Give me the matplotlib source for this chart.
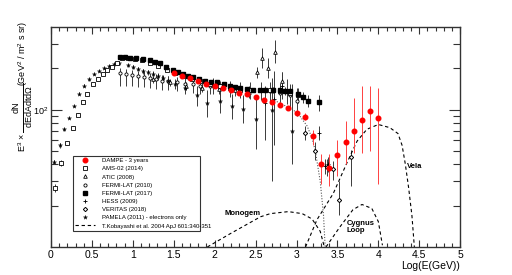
import numpy as np
import matplotlib
matplotlib.use("Agg")
from matplotlib import pyplot as plt
from matplotlib.container import ErrorbarContainer
from matplotlib.ticker import FixedLocator, NullFormatter, FixedFormatter

plt.rcParams["font.family"] = ["Liberation Sans", "DejaVu Sans"]
plt.rcParams["mathtext.fontset"] = "custom"
plt.rcParams["mathtext.rm"] = "Liberation Sans"
plt.rcParams["mathtext.it"] = "Liberation Sans:italic"

# ---- data: x = log10(E/GeV), y = E^3 flux ----
dampe_x = [1.5, 1.6, 1.7, 1.8, 1.9, 2.0, 2.1, 2.2, 2.3, 2.4, 2.5, 2.6, 2.7,
           2.8, 2.9, 3.0, 3.1, 3.2, 3.3, 3.4, 3.5, 3.6, 3.7, 3.8, 3.9, 4.0]
dampe_y = [184, 175, 169, 161, 155, 148, 143, 138, 133, 129, 123, 118, 113,
           109, 103, 95, 89, 64, 40, 37.5, 47, 58, 70, 84, 98, 87]
dampe_lo = [179, 170, 165, 157, 151, 144, 139, 134, 129, 125, 119, 114, 109,
            105, 99, 91, 84, 55, 28.6, 27.6, 33, 40, 48, 48, 50, 29]
dampe_hi = [189, 180, 173, 165, 159, 152, 147, 142, 137, 133, 127, 122, 117,
            113, 107, 99, 94, 71, 47.5, 47.5, 60, 83, 122, 148, 148, 143]

ams_x = [0.05, 0.12, 0.20, 0.27, 0.33, 0.39, 0.44, 0.51, 0.57, 0.64, 0.68, 0.75,
         0.81, 0.87, 0.94, 1.03, 1.11, 1.21, 1.31, 1.42, 1.52, 1.61, 1.72, 1.82,
         1.94, 2.07, 2.19, 2.31, 2.43, 2.56, 2.68, 2.80, 2.92, 3.02]
ams_y = [27, 41, 57, 74, 92, 113, 129, 153, 166, 181, 193, 204, 218, 237, 238,
         234, 229, 218, 207, 195, 184, 175, 168, 161, 155, 149, 144, 140, 139,
         138, 138, 136, 133, 127]
ams_lo = [25, 39, 55, 72, 90, 111, 127, 151, 164, 179, 191, 202, 216, 235, 236,
          232, 227, 216, 205, 193, 182, 173, 165, 158, 151, 145, 139, 134, 132,
          130, 128, 124, 119, 111]
ams_hi = [29, 43, 59, 76, 94, 115, 131, 155, 168, 183, 195, 206, 220, 239, 240,
          236, 231, 220, 209, 197, 186, 177, 171, 164, 159, 153, 149, 146, 146,
          146, 148, 148, 147, 143]

atic_x = [1.25, 1.45, 1.65, 1.85, 2.05, 2.25, 2.42, 2.52, 2.58, 2.65, 2.74, 2.82]
atic_y = [166, 158, 150, 145, 141, 138, 135, 187, 237, 200, 262, 161]
atic_lo = [156, 148, 140, 134, 130, 126, 122, 169, 200, 169, 218, 138]
atic_hi = [176, 168, 160, 156, 152, 150, 148, 204, 281, 237, 321, 187]

fermi10_x = [0.84, 0.92, 0.99, 1.06, 1.14, 1.21, 1.28, 1.36, 1.43, 1.54, 1.64,
             1.74, 1.82, 1.94, 2.07, 2.19, 2.31, 2.43, 2.56, 2.68, 2.80, 2.92, 3.01]
fermi10_y = [184, 181, 178, 175, 172, 169, 166, 163, 161, 158, 155, 153, 150,
             148, 145, 143, 140, 140, 138, 136, 133, 127, 116]
fermi10_lo = [150, 150, 149, 147, 146, 144, 142, 140, 139, 137, 135, 133, 131,
              129, 126, 124, 121, 120, 117, 114, 110, 102, 90]
fermi10_hi = [200, 197, 193, 190, 187, 184, 181, 178, 176, 173, 170, 168, 166,
              165, 162, 161, 159, 160, 159, 158, 157, 153, 143]

fermi17_x = [0.84, 0.90, 0.97, 1.04, 1.12, 1.21, 1.27, 1.33, 1.41, 1.49, 1.55,
             1.61, 1.68, 1.74, 1.81, 1.88, 1.95, 2.03, 2.11, 2.19, 2.25, 2.31,
             2.39, 2.47, 2.55, 2.62, 2.71, 2.80, 2.86, 2.92, 3.02, 3.08, 3.14, 3.28]
fermi17_y = [241, 240, 239, 237, 235, 229, 224, 218, 206, 193, 187, 181, 176,
             172, 167, 163, 160, 158, 154, 150, 147, 145, 142, 140, 139, 140,
             139, 138, 137, 136, 129, 123, 116, 113]
fermi17_lo = [239, 238, 237, 235, 233, 227, 222, 216, 204, 191, 185, 179, 174,
              170, 165, 161, 158, 155, 151, 147, 144, 141, 138, 136, 134, 134,
              132, 130, 128, 126, 118, 111, 104, 98]
fermi17_hi = [243, 242, 241, 239, 237, 231, 226, 220, 208, 195, 189, 183, 178,
              174, 169, 165, 162, 161, 157, 153, 150, 149, 146, 144, 144, 146,
              146, 146, 146, 146, 140, 135, 128, 127]

hess_x = [2.62, 2.72, 2.82, 2.88, 3.28, 3.35, 3.38]
hess_y = [112, 120, 150, 137, 68, 39, 40]
hess_lo = [60, 55, 120, 110, 60, 34, 35]
hess_hi = [150, 190, 187, 168, 76, 44, 45]

veritas_x = [3.10, 3.23, 3.37, 3.44, 3.52, 3.67]
veritas_y = [68, 50, 38, 37, 22, 45]
veritas_lo = [60, 43, 33, 31, 17, 28]
veritas_hi = [76, 58, 44, 42, 30, 51]

pamela_x = [0.04, 0.11, 0.16, 0.22, 0.28, 0.34, 0.40, 0.46, 0.53, 0.59, 0.65,
            0.71, 0.77, 0.83, 0.94, 1.00, 1.06, 1.12, 1.19, 1.25, 1.31, 1.37,
            1.43, 1.52, 1.64, 1.78, 1.91, 1.98, 2.07, 2.21, 2.35, 2.51, 2.70, 2.95]
pamela_y = [41.5, 55, 72, 87, 107, 131, 150, 166, 181, 190, 200, 207, 214, 218,
            211, 204, 197, 190, 187, 181, 175, 169, 163, 155, 145, 127, 111,
            150, 116, 107, 102, 86, 100, 70]
pamela_lo = [40, 53, 70, 85, 105, 128, 147, 163, 178, 187, 197, 203, 210, 213,
             206, 198, 191, 183, 179, 172, 165, 158, 151, 142, 130, 107, 88,
             130, 95, 85, 80, 52, 30, 40]
pamela_hi = [43, 57, 74, 89, 109, 134, 153, 169, 184, 193, 203, 211, 218, 223,
             216, 210, 203, 197, 195, 190, 185, 180, 175, 168, 160, 150, 140,
             170, 140, 131, 128, 125, 170, 155]

# Kobayashi et al. 2004 model curves
bkg_x = [2.7, 2.8, 2.95, 3.04, 3.13, 3.19, 3.23, 3.29, 3.33, 3.35]
bkg_y = [120, 111, 101, 90, 76, 62, 50, 30, 17, 10]
monogem_x = [1.91, 2.19, 2.56, 2.68, 2.90, 3.07, 3.19, 3.29, 3.34]
monogem_y = [10, 12.5, 16.6, 17.5, 18.1, 17.5, 16, 13, 10]
cygnus_x = [3.36, 3.53, 3.69, 3.80, 3.92, 4.00, 4.05]
cygnus_y = [10, 14, 18.7, 20.4, 19.1, 15.3, 10.3]
vela_x = [3.11, 3.25, 3.45, 3.62, 3.74, 3.86, 4.00, 4.14, 4.24, 4.29, 4.33,
          4.37, 4.41, 4.44]
vela_y = [10, 15.8, 24.6, 41.5, 59, 72, 78, 74, 67, 55, 40, 27, 17, 10]


def errs(y, lo, hi):
    y = np.array(y)
    return [y - np.array(lo), np.array(hi) - y]


fig = plt.figure(figsize=(5.12, 2.75), dpi=100)
ax = fig.add_axes([0.0996, 0.1018, 0.7992, 0.8])

eb = dict(linestyle="none", elinewidth=0.7, capsize=0)
grey = "#3a3a3a"

ax.errorbar(fermi10_x, fermi10_y, yerr=errs(fermi10_y, fermi10_lo, fermi10_hi), marker="o",
            ms=2.3, mfc="white", mec="black", mew=0.6, ecolor=grey, color="black",
            label="FERMI-LAT (2010)", **eb)
ax.errorbar(atic_x, atic_y, yerr=errs(atic_y, atic_lo, atic_hi), marker="^", ms=2.6,
            mfc="white", mec="black", mew=0.6, ecolor=grey, color="black",
            label="ATIC (2008)", **eb)
ax.errorbar(pamela_x, pamela_y, yerr=errs(pamela_y, pamela_lo, pamela_hi), marker="*",
            ms=3.2, mfc="black", mec="black", mew=0.2, ecolor=grey, color="black",
            label="PAMELA (2011) - electrons only", **eb)
ax.errorbar(ams_x, ams_y, yerr=errs(ams_y, ams_lo, ams_hi), marker="s", ms=2.3,
            mfc="white", mec="black", mew=0.6, ecolor=grey, color="black",
            label="AMS-02 (2014)", **eb)
ax.errorbar(fermi17_x, fermi17_y, yerr=errs(fermi17_y, fermi17_lo, fermi17_hi), marker="s",
            ms=2.2, mfc="black", mec="black", ecolor=grey, color="black",
            label="FERMI-LAT (2017)", **eb)
ax.errorbar(hess_x, hess_y, yerr=errs(hess_y, hess_lo, hess_hi), marker="+", ms=2.5,
            mew=0.6, color="black", ecolor=grey, label="HESS (2009)", **eb)
ax.errorbar(veritas_x, veritas_y, yerr=errs(veritas_y, veritas_lo, veritas_hi), marker="D",
            ms=2.2, mfc="white", mec="black", mew=0.7, color="black", ecolor=grey,
            label="VERITAS (2018)", **eb)
ax.errorbar(dampe_x, dampe_y, yerr=errs(dampe_y, dampe_lo, dampe_hi), marker="o", ms=3.3,
            mfc="red", mec="red", ecolor="#ff4040", color="red", label="DAMPE - 3 years",
            zorder=5, **eb)

ax.plot(bkg_x, bkg_y, color="#555555", lw=0.8, linestyle=(0, (1, 1.5)))
ax.plot(monogem_x, monogem_y, color="black", lw=0.8, linestyle=(0, (3, 2.5)),
        label="T.Kobayashi et al. 2004 ApJ 601:340-351")
ax.plot(cygnus_x, cygnus_y, color="black", lw=0.8, linestyle=(0, (3, 2.5)))
ax.plot(vela_x, vela_y, color="black", lw=0.8, linestyle=(0, (3, 2.5)))

ax.text(2.115, 17.5, "Monogem", fontsize=5.5, fontweight="bold", ha="left", va="center")
ax.text(3.61, 14.0, "Cygnus\nLoop", fontsize=5.5, fontweight="bold", ha="left", va="center",
        linespacing=1.1)
ax.text(4.35, 38.7, "Vela", fontsize=5.5, fontweight="bold", ha="left", va="center")

ax.set_xlim(0, 5)
ax.set_yscale("log")
ax.set_ylim(10, 400)
ax.xaxis.set_major_locator(FixedLocator(np.arange(0, 5.01, 0.5)))
ax.xaxis.set_minor_locator(FixedLocator(np.arange(0, 5.01, 0.1)))
ax.set_xticklabels(["0", "0.5", "1", "1.5", "2", "2.5", "3", "3.5", "4", "4.5", "5"])
ax.yaxis.set_major_locator(FixedLocator([100]))
ax.yaxis.set_major_formatter(FixedFormatter(["$10^{2}$"]))
ax.yaxis.set_minor_locator(FixedLocator([20, 30, 40, 50, 60, 70, 80, 90, 200, 300]))
ax.yaxis.set_minor_formatter(NullFormatter())
ax.tick_params(which="both", direction="in", top=True, right=True, labelsize=7.5,
               width=0.8, colors="#333333", labelcolor="black")
ax.tick_params(axis="x", which="major", length=5, pad=2)
ax.tick_params(axis="x", which="minor", length=3)
ax.tick_params(axis="y", which="major", length=8, pad=2, labelsize=6.5)
ax.tick_params(axis="y", which="minor", length=5)
for s in ax.spines.values():
    s.set_linewidth(1.0)
    s.set_color("#333333")

ax.set_xlabel("Log(E(GeV))", fontsize=7.5, loc="right", labelpad=1)

# y title in pieces, like ROOT's #frac
fig.text(0.043, 0.48, r"E$^{3}$ $\times$", rotation=90, fontsize=6.5, ha="center", va="center")
fig.text(0.031, 0.611, "dN", rotation=90, fontsize=6.5, ha="center", va="center")
fig.text(0.056, 0.611, r"dEdAdtd$\Omega$", rotation=90, fontsize=6.5, ha="center",
         va="center")
fig.add_artist(plt.Line2D([0.0445, 0.0445], [0.52, 0.70], color="black", lw=0.7,
                          transform=fig.transFigure))
fig.text(0.046, 0.807, r"(GeV$^{2}$ / m$^{2}$ s sr)", rotation=90, fontsize=6.5,
         ha="center", va="center")

order = ["DAMPE - 3 years", "AMS-02 (2014)", "ATIC (2008)", "FERMI-LAT (2010)",
         "FERMI-LAT (2017)", "HESS (2009)", "VERITAS (2018)",
         "PAMELA (2011) - electrons only", "T.Kobayashi et al. 2004 ApJ 601:340-351"]
handles, labels = ax.get_legend_handles_labels()
hmap = {}
for h, lab in zip(handles, labels):
    hmap[lab] = h[0] if isinstance(h, ErrorbarContainer) else h
leg = ax.legend([hmap[k] for k in order], order, loc="lower left",
                bbox_to_anchor=(0.054, 0.073, 0.31, 0.341), mode="expand",
                fontsize=4.3, frameon=True, fancybox=False, edgecolor="black",
                labelspacing=0.5, handlelength=3.2, handletextpad=1.2,
                borderpad=0.4, borderaxespad=0)
leg.get_frame().set_linewidth(0.8)

fig.savefig("out.png", dpi=100)
